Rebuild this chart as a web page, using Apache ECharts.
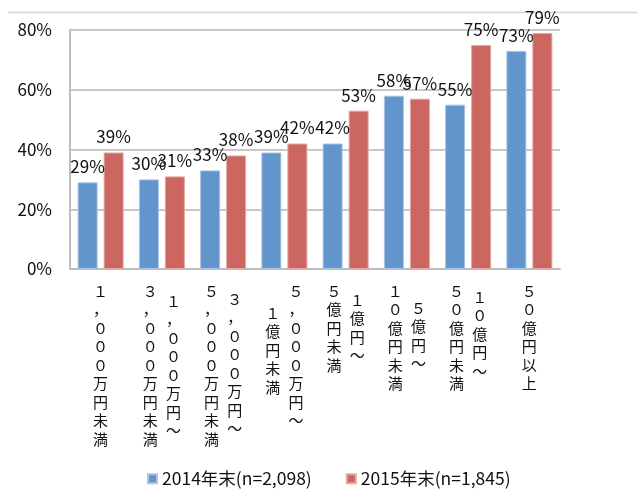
<!DOCTYPE html>
<html lang="ja">
<head>
    <meta charset="UTF-8">
    <title>Chart</title>
    <script src="https://cdn.jsdelivr.net/npm/echarts@6/dist/echarts.min.js"></script>
    <style>
        html, body { margin: 0; padding: 0; background: #fff; }
    </style>
</head>
<body>
    <div id="main" style="width: 639px;height:495px;"></div>
    <script type="text/javascript">
        // カテゴリ
        var categories = [
            '1,000万円未満',
            '1,000万円～3,000万円未満',
            '3,000万円～5,000万円未満',
            '5,000万円～1億円未満',
            '1億円～5億円未満',
            '5億円～10億円未満',
            '10億円～50億円未満',
            '50億円以上'
        ];
        // 縦書きラベル（1列のもの／左列／右列）
        var labelSingle = ['１，０００万円未満', '', '', '', '', '', '', '５０億円以上'];
        var labelLeft = ['', '３，０００万円未満', '５，０００万円未満', '１億円未満', '５億円未満', '１０億円未満', '５０億円未満', ''];
        var labelRight = ['', '１，０００万円～', '３，０００万円～', '５，０００万円～', '１億円～', '５億円～', '１０億円～', ''];

        // 系列データ（%）
        var data2014 = [29, 30, 33, 39, 42, 58, 55, 73];
        var data2015 = [39, 31, 38, 42, 53, 57, 75, 79];
        var seriesNames = ['2014年末(n=2,098)', '2015年末(n=1,845)'];

        // 列の下げ幅(px)
        var dropLeft = [0, 0, 0, 22, 0, 0, 0, 0];
        var dropRight = [0, 10, 8, 0, 9, 17, 6, 0];

        var rich = {};
        dropLeft.concat(dropRight).forEach(function (n) {
            if (n > 0) rich['s' + n] = {lineHeight: n, fontSize: 1, height: n};
        });

        function vertical(texts, drops) {
            return function (value, idx) {
                var t = texts[idx];
                if (!t) return '';
                var s = t.split('').join('\n');
                var d = drops ? drops[idx] : 0;
                return d > 0 ? '{s' + d + '| }\n' + s : s;
            };
        }

        var font = '"Noto Sans CJK JP", "Noto Sans", sans-serif';
        var labelBase = {
            interval: 0,
            fontFamily: font,
            fontSize: 15,
            lineHeight: 18.5,
            color: '#111',
            margin: 13,
            rich: rich
        };

        function extraAxis(formatter, align, padding) {
            return {
                type: 'category',
                data: categories,
                position: 'bottom',
                axisLine: {show: false},
                axisTick: {show: false},
                splitLine: {show: false},
                axisLabel: Object.assign({}, labelBase, {
                    formatter: formatter,
                    align: align,
                    padding: padding
                })
            };
        }

        var myChart = echarts.init(document.getElementById('main'));
        var option = {
            textStyle: {fontFamily: font},
            animation: false,
            grid: {left: 70, right: 79, top: 30, bottom: 226},
            legend: {
                data: seriesNames,
                left: 142,
                top: 465,
                icon: 'rect',
                itemWidth: 9,
                itemHeight: 9,
                itemGap: 34,
                textStyle: {fontFamily: font, fontSize: 17.5, color: '#111'}
            },
            xAxis: [
                {
                    type: 'category',
                    data: categories,
                    axisLine: {lineStyle: {color: '#bdbdbd', width: 2}},
                    axisTick: {show: false},
                    axisLabel: Object.assign({}, labelBase, {
                        formatter: vertical(labelSingle, null),
                        align: 'center'
                    })
                },
                extraAxis(vertical(labelLeft, dropLeft), 'right', [0, 4, 0, 0]),
                extraAxis(vertical(labelRight, dropRight), 'left', [0, 0, 0, 4])
            ],
            yAxis: {
                type: 'value',
                min: 0,
                max: 80,
                interval: 20,
                axisLine: {show: true, lineStyle: {color: '#bdbdbd', width: 2}},
                axisTick: {show: false},
                splitLine: {lineStyle: {color: '#c8c8c8', width: 2}},
                axisLabel: {
                    formatter: '{value}%',
                    fontFamily: font,
                    fontSize: 17,
                    color: '#111',
                    margin: 18
                }
            },
            graphic: [{
                type: 'line',
                shape: {x1: 8, y1: 12.5, x2: 638, y2: 12.5},
                style: {stroke: '#d6d6d6', lineWidth: 1.5}
            }],
            series: [
                {
                    name: seriesNames[0],
                    type: 'bar',
                    data: data2014,
                    barWidth: 20,
                    barGap: '30%',
                    itemStyle: {color: '#6195cc', borderColor: '#a9c4e4', borderWidth: 1},
                    label: {show: true, position: 'top', distance: 7, formatter: '{c}%',
                        fontFamily: font, fontSize: 17, color: '#111'}
                },
                {
                    name: seriesNames[1],
                    type: 'bar',
                    data: data2015,
                    barWidth: 20,
                    barGap: '30%',
                    itemStyle: {color: '#cc6661', borderColor: '#e4a6a3', borderWidth: 1},
                    label: {show: true, position: 'top', distance: 7, formatter: '{c}%',
                        fontFamily: font, fontSize: 17, color: '#111'}
                }
            ]
        };

        myChart.setOption(option);
    </script>
</body>
</html>
